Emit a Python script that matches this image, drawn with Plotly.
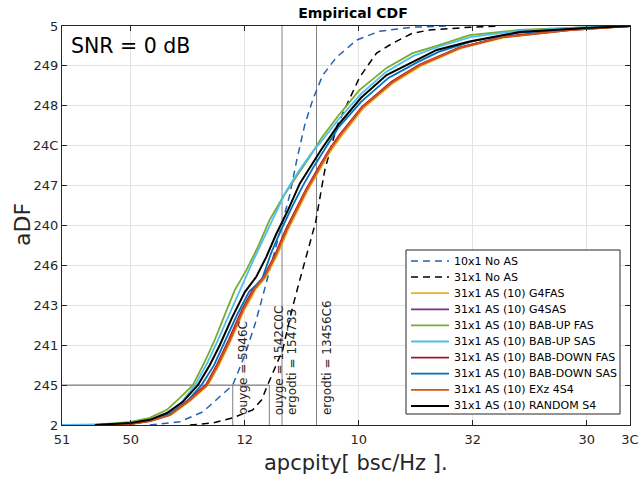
import plotly.graph_objects as go

# Empirical CDF curves: capacity values (x) and cumulative probability (y)
cap_10x1_noas = [15.83, 17.15, 18.16, 18.90, 19.47, 20.00, 20.44, 20.74, 21.09, 21.62, 21.97, 22.28, 22.63, 22.98, 23.42, 24.03, 24.91, 25.92, 27.36, 28.98]
cdf_10x1_noas = [0.000, 0.008, 0.033, 0.070, 0.100, 0.175, 0.251, 0.313, 0.388, 0.501, 0.576, 0.664, 0.752, 0.815, 0.877, 0.922, 0.965, 0.987, 0.997, 1.000]

cap_31x1_noas = [17.59, 18.59, 19.47, 20.35, 20.74, 21.00, 21.66, 22.10, 22.41, 22.76, 23.11, 23.51, 24.03, 24.47, 25.04, 25.78, 26.49, 27.36, 28.11, 29.86, 31.20]
cdf_31x1_noas = [0.000, 0.005, 0.018, 0.038, 0.063, 0.100, 0.188, 0.296, 0.363, 0.439, 0.509, 0.639, 0.747, 0.802, 0.872, 0.932, 0.957, 0.982, 0.990, 0.997, 1.000]

cap_g4fas = [13.70, 15.05, 15.88, 16.76, 17.64, 18.38, 18.86, 19.39, 19.96, 20.49, 20.92, 21.44, 21.88, 22.31, 22.75, 23.26, 23.77, 24.21, 25.22, 26.53, 27.72, 29.47, 31.35, 34.30, 36.90]
cdf_g4fas = [0.000, 0.002, 0.010, 0.025, 0.062, 0.100, 0.149, 0.212, 0.286, 0.341, 0.370, 0.428, 0.487, 0.537, 0.587, 0.637, 0.687, 0.722, 0.795, 0.858, 0.900, 0.944, 0.971, 0.990, 1.000]

cap_g4sas = [13.66, 15.00, 15.83, 16.71, 17.59, 18.33, 18.81, 19.34, 19.91, 20.44, 20.87, 21.39, 21.83, 22.26, 22.70, 23.21, 23.72, 24.16, 25.17, 26.48, 27.67, 29.42, 31.30, 34.25, 36.90]
cdf_g4sas = [0.000, 0.003, 0.010, 0.025, 0.063, 0.100, 0.150, 0.213, 0.288, 0.343, 0.372, 0.430, 0.489, 0.539, 0.589, 0.639, 0.689, 0.725, 0.797, 0.860, 0.902, 0.945, 0.972, 0.990, 1.000]

cap_bab_up_fas = [13.40, 14.08, 15.00, 15.83, 16.58, 17.15, 17.72, 18.24, 18.68, 19.12, 19.56, 20.07, 20.58, 21.09, 21.68, 22.26, 22.85, 23.35, 24.10, 25.04, 26.22, 27.36, 28.42, 29.86, 32.05, 34.99, 36.90]
cdf_bab_up_fas = [0.000, 0.003, 0.008, 0.018, 0.038, 0.068, 0.100, 0.158, 0.213, 0.276, 0.338, 0.388, 0.447, 0.514, 0.572, 0.622, 0.672, 0.718, 0.775, 0.840, 0.895, 0.932, 0.950, 0.977, 0.990, 0.997, 1.000]

cap_bab_up_sas = [11.98, 14.50, 15.00, 15.83, 16.58, 17.20, 17.82, 18.35, 18.80, 19.30, 19.80, 20.35, 20.85, 21.30, 21.80, 22.35, 22.90, 23.35, 24.10, 25.10, 26.20, 27.40, 28.50, 29.90, 32.00, 35.00, 36.90]
cdf_bab_up_sas = [0.000, 0.002, 0.006, 0.011, 0.027, 0.055, 0.100, 0.155, 0.210, 0.275, 0.340, 0.410, 0.470, 0.525, 0.585, 0.635, 0.680, 0.710, 0.765, 0.830, 0.885, 0.925, 0.948, 0.972, 0.988, 0.997, 1.000]

cap_bab_down_fas = [13.60, 15.00, 15.85, 16.70, 17.55, 18.30, 18.78, 19.30, 19.88, 20.40, 20.85, 21.36, 21.80, 22.24, 22.68, 23.18, 23.70, 24.14, 25.15, 26.45, 27.65, 29.40, 31.28, 34.20, 36.90]
cdf_bab_down_fas = [0.000, 0.003, 0.011, 0.026, 0.064, 0.101, 0.151, 0.214, 0.289, 0.344, 0.373, 0.431, 0.490, 0.540, 0.590, 0.640, 0.690, 0.726, 0.798, 0.861, 0.903, 0.946, 0.973, 0.991, 1.000]

cap_bab_down_sas = [13.50, 15.00, 15.83, 16.65, 17.40, 18.10, 18.65, 19.10, 19.65, 20.20, 20.74, 21.15, 21.60, 22.10, 22.55, 23.05, 23.50, 24.10, 25.10, 26.30, 27.60, 28.50, 30.00, 32.00, 35.00, 36.90]
cdf_bab_down_sas = [0.000, 0.004, 0.011, 0.027, 0.055, 0.100, 0.150, 0.205, 0.275, 0.335, 0.363, 0.430, 0.490, 0.550, 0.600, 0.650, 0.690, 0.745, 0.810, 0.870, 0.910, 0.935, 0.962, 0.983, 0.995, 1.000]

cap_exz = [13.64, 15.00, 15.83, 16.71, 17.59, 18.33, 18.81, 19.34, 19.91, 20.44, 20.87, 21.39, 21.83, 22.26, 22.70, 23.21, 23.72, 24.16, 25.17, 26.48, 27.67, 29.42, 31.30, 34.25, 36.90]
cdf_exz = [0.000, 0.003, 0.010, 0.025, 0.063, 0.100, 0.150, 0.213, 0.288, 0.343, 0.372, 0.430, 0.489, 0.539, 0.589, 0.639, 0.689, 0.725, 0.797, 0.860, 0.902, 0.945, 0.972, 0.990, 1.000]

cap_random = [13.42, 15.00, 15.83, 16.58, 17.28, 17.94, 18.46, 18.90, 19.43, 20.00, 20.51, 20.95, 21.39, 21.90, 22.41, 22.92, 23.35, 24.10, 25.10, 26.22, 27.54, 28.42, 29.86, 32.05, 34.99, 36.90]
cdf_random = [0.000, 0.005, 0.013, 0.030, 0.058, 0.100, 0.150, 0.200, 0.268, 0.333, 0.372, 0.422, 0.480, 0.539, 0.605, 0.650, 0.690, 0.752, 0.820, 0.877, 0.915, 0.940, 0.961, 0.985, 0.995, 1.000]

series_names = [
    "10x1 No AS", "31x1 No AS",
    "31x1 AS (10) G4FAS", "31x1 AS (10) G4SAS",
    "31x1 AS (10) BAB-UP FAS", "31x1 AS (10) BAB-UP SAS",
    "31x1 AS (10) BAB-DOWN FAS", "31x1 AS (10) BAB-DOWN SAS",
    "31x1 AS (10) EXz 4S4", "31x1 AS (10) RANDOM S4",
]

# Outage (10%) and ergodic capacity markers
outage_level = 0.1
outage_caps = [19.47, 21.0757]
outage_text = ["ouyge = 5946C", "ouyge = 1542C0C"]
ergodic_caps = [21.633, 23.1474]
ergodic_text = ["ergodti = 154733", "ergodti = 13456C6"]

x_min, x_max = 11.98, 36.9
x_tickvals = [x_min, 15, 20, 25, 30, 35, x_max]
x_ticktext = ["51", "50", "12", "10", "32", "30", "3C"]
y_tickvals = [0, 0.1, 0.2, 0.3, 0.4, 0.5, 0.6, 0.7, 0.8, 0.9, 1.0]
y_ticktext = ["2", "245", "241", "243", "246", "240", "247", "24C", "248", "249", "5"]

DASH = "7px,5px"
curves = [
    (cap_10x1_noas, cdf_10x1_noas, "#2361b3", DASH, 1.5),
    (cap_31x1_noas, cdf_31x1_noas, "#000000", DASH, 1.5),
    (cap_g4fas, cdf_g4fas, "#EDB120", "solid", 1.8),
    (cap_g4sas, cdf_g4sas, "#7E2F8E", "solid", 1.8),
    (cap_bab_up_fas, cdf_bab_up_fas, "#77AC30", "solid", 1.8),
    (cap_bab_up_sas, cdf_bab_up_sas, "#4DBEEE", "solid", 1.8),
    (cap_bab_down_fas, cdf_bab_down_fas, "#A2142F", "solid", 1.8),
    (cap_bab_down_sas, cdf_bab_down_sas, "#0072BD", "solid", 1.8),
    (cap_exz, cdf_exz, "#D95319", "solid", 1.8),
    (cap_random, cdf_random, "#000000", "solid", 2),
]

# figure geometry (pixels)
W, H = 641, 480
ML, MR, MT, MB = 62, 11, 26, 55
PW, PH = W - ML - MR, H - MT - MB


def px_x(px):
    return (px - ML) / PW


def px_y(py):
    return (H - MB - py) / PH


fig = go.Figure()

marker_color = "#808080"
for c in outage_caps:
    fig.add_trace(go.Scatter(x=[c, c], y=[0, outage_level], mode="lines",
                             line=dict(color=marker_color, width=1), showlegend=False, hoverinfo="skip"))
for c in ergodic_caps:
    fig.add_trace(go.Scatter(x=[c, c], y=[0, 1], mode="lines",
                             line=dict(color=marker_color, width=1), showlegend=False, hoverinfo="skip"))
fig.add_trace(go.Scatter(x=[x_min, max(outage_caps)], y=[outage_level, outage_level], mode="lines",
                         line=dict(color="#606060", width=1), showlegend=False, hoverinfo="skip"))

for name, (xs, ys, color, dash, w) in zip(series_names, curves):
    fig.add_trace(go.Scatter(x=xs, y=ys, mode="lines", name=name, showlegend=False,
                             line=dict(color=color, dash=dash, width=w)))

axis_color = "#262626"
annotations = []
shapes = []
for c, t in zip(outage_caps + ergodic_caps, outage_text + ergodic_text):
    annotations.append(dict(x=c, y=0, xref="x", yref="y", text=t, textangle=-90,
                            showarrow=False, xanchor="left", yanchor="bottom",
                            xshift=1, yshift=8, font=dict(size=12, color="#262626")))
annotations.append(dict(x=0, y=1, xref="paper", yref="paper", text="SNR = 0 dB",
                        showarrow=False, xanchor="left", yanchor="top", xshift=7, yshift=-6,
                        font=dict(size=20.5, color="#000000")))
# axis titles
annotations.append(dict(x=px_x(22), y=px_y(225), xref="paper", yref="paper", text="aDF",
                        textangle=-90, showarrow=False, xanchor="center", yanchor="middle",
                        font=dict(size=22, color=axis_color)))
annotations.append(dict(x=px_x(356), y=px_y(463), xref="paper", yref="paper",
                        text="apcpity[ bsc/Hz ].", showarrow=False,
                        xanchor="center", yanchor="middle",
                        font=dict(size=21, color=axis_color)))

# legend box drawn in paper coordinates
lg_left, lg_right, lg_top, lg_bottom = 406, 620, 250, 414
shapes.append(dict(type="rect", xref="paper", yref="paper",
                   x0=px_x(lg_left), x1=px_x(lg_right), y0=px_y(lg_bottom), y1=px_y(lg_top),
                   line=dict(color=axis_color, width=1), fillcolor="white", layer="above"))
row0, row_step = 261, 16.1
for i, (name, (_, _, color, dash, w)) in enumerate(zip(series_names, curves)):
    yy = px_y(row0 + i * row_step)
    shapes.append(dict(type="line", xref="paper", yref="paper",
                       x0=px_x(411), x1=px_x(449), y0=yy, y1=yy,
                       line=dict(color=color, dash=dash, width=w), layer="above"))
    annotations.append(dict(x=px_x(452), y=yy, xref="paper", yref="paper", text=name,
                            showarrow=False, xanchor="left", yanchor="middle",
                            font=dict(size=11, color="#000000")))

fig.update_layout(
    width=W, height=H,
    margin=dict(l=ML, r=MR, t=MT, b=MB),
    paper_bgcolor="white", plot_bgcolor="white",
    font=dict(family="DejaVu Sans", color=axis_color),
    title=dict(text="<b>Empirical CDF</b>", x=353 / W, xanchor="center",
               y=1 - 13 / H, yanchor="middle", yref="container",
               font=dict(size=14, color="#000000")),
    xaxis=dict(range=[x_min, x_max], tickvals=x_tickvals, ticktext=x_ticktext,
               ticks="inside", ticklen=5, tickcolor=axis_color, automargin=False,
               ticklabelstandoff=2,
               showline=True, linecolor=axis_color, linewidth=1, mirror="ticks",
               showgrid=True, gridcolor="#e3e3e3", zeroline=False,
               tickfont=dict(size=13, color=axis_color)),
    yaxis=dict(range=[0, 1], tickvals=y_tickvals, ticktext=y_ticktext,
               ticks="inside", ticklen=5, tickcolor=axis_color, automargin=False,
               showline=True, linecolor=axis_color, linewidth=1, mirror="ticks",
               showgrid=True, gridcolor="#e3e3e3", zeroline=False,
               tickfont=dict(size=13, color=axis_color)),
    annotations=annotations,
    shapes=shapes,
    showlegend=False,
)

fig.write_html("out.html")
